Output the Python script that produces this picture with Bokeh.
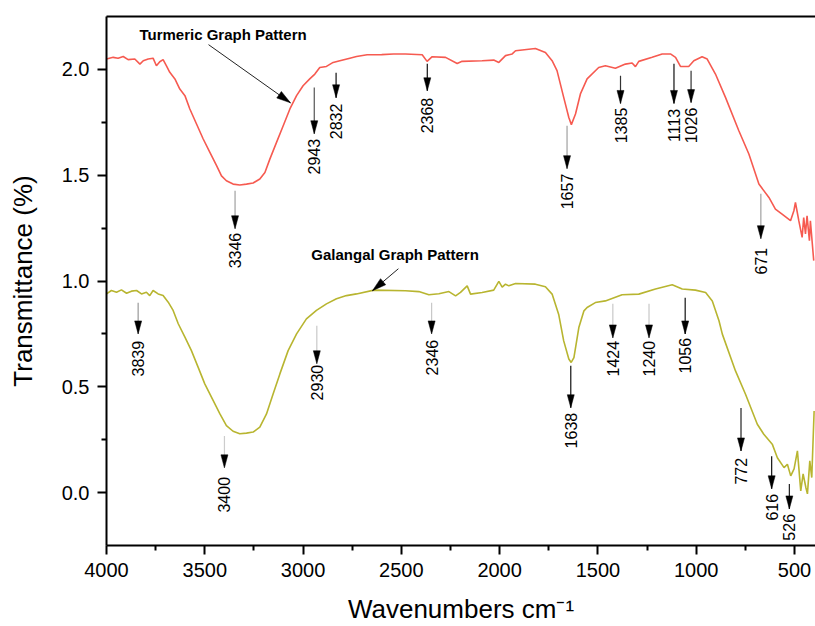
import math
from bokeh.plotting import figure
from bokeh.models import Range1d, FixedTicker, PrintfTickFormatter, LinearAxis
from bokeh.core.properties import value
from bokeh.embed import file_html
from bokeh.resources import INLINE

# ---------------- data ----------------
turmeric_x = [4000, 3966, 3941, 3915, 3890, 3856, 3830, 3813, 3788, 3763, 3746, 3729, 3712, 3695, 3678,
              3652, 3627, 3601, 3576, 3542, 3508, 3474, 3440, 3415, 3390, 3356, 3322, 3288, 3254, 3220,
              3194, 3169, 3135, 3101, 3067, 3033, 3000, 2966, 2940, 2915, 2881, 2847, 2813, 2762, 2728,
              2674, 2600, 2540, 2479, 2394, 2369, 2343, 2275, 2216, 2191, 2089, 2030, 2004, 1970, 1936,
              1919, 1818, 1767, 1733, 1708, 1674, 1648, 1635, 1614, 1589, 1555, 1496, 1462, 1411, 1360,
              1326, 1309, 1292, 1224, 1173, 1131, 1105, 1080, 1038, 1012, 970, 944, 902, 851, 783,
              732, 681, 630, 597, 563, 520, 503, 495, 478, 461, 453, 444, 436, 424, 419, 402]
turmeric_y = [2.049, 2.057, 2.053, 2.061, 2.046, 2.049, 2.025, 2.041, 2.049, 2.053, 2.017, 2.036, 2.046, 2.017, 1.986,
              1.955, 1.907, 1.876, 1.813, 1.742, 1.671, 1.608, 1.545, 1.497, 1.474, 1.458, 1.454, 1.458, 1.463, 1.482,
              1.513, 1.576, 1.655, 1.734, 1.813, 1.876, 1.923, 1.955, 1.978, 2.009, 2.014, 2.033, 2.041, 2.053, 2.061,
              2.069, 2.070, 2.073, 2.073, 2.069, 2.038, 2.06, 2.057, 2.028, 2.038, 2.041, 2.044, 2.033, 2.065, 2.073,
              2.088, 2.099, 2.08, 2.041, 1.994, 1.868, 1.773, 1.739, 1.789, 1.884, 1.955, 2.009, 2.017, 2.005, 2.025,
              2.03, 2.013, 2.038, 2.057, 2.073, 2.073, 2.057, 2.014, 2.014, 2.041, 2.06, 2.049, 1.978, 1.868, 1.71,
              1.6, 1.458, 1.395, 1.34, 1.316, 1.285, 1.332, 1.371, 1.285, 1.206, 1.3, 1.222, 1.308, 1.19, 1.285, 1.096]

galangal_x = [4000, 3975, 3949, 3924, 3898, 3873, 3847, 3822, 3797, 3780, 3763, 3737, 3712, 3686, 3661,
              3635, 3601, 3568, 3534, 3500, 3457, 3423, 3390, 3356, 3322, 3288, 3254, 3220, 3186, 3152,
              3118, 3076, 3033, 2983, 2932, 2881, 2830, 2779, 2728, 2640, 2479, 2411, 2360, 2309, 2258,
              2224, 2199, 2165, 2148, 2089, 2030, 2004, 1987, 1970, 1953, 1919, 1818, 1767, 1733, 1699,
              1674, 1648, 1636, 1622, 1597, 1571, 1555, 1513, 1462, 1377, 1292, 1207, 1122, 1071, 1004,
              952, 918, 884, 867, 800, 749, 689, 656, 613, 587, 553, 536, 519, 502, 485,
              468, 456, 442, 434, 422, 412, 400]
galangal_y = [0.939, 0.955, 0.947, 0.958, 0.942, 0.952, 0.955, 0.939, 0.947, 0.931, 0.955, 0.939, 0.931, 0.9, 0.861,
              0.798, 0.735, 0.671, 0.593, 0.514, 0.435, 0.372, 0.317, 0.29, 0.278, 0.281, 0.286, 0.309, 0.372, 0.467,
              0.561, 0.671, 0.75, 0.821, 0.861, 0.892, 0.916, 0.931, 0.939, 0.957, 0.954, 0.95, 0.935, 0.94, 0.95,
              0.93, 0.946, 0.977, 0.938, 0.946, 0.957, 0.998, 0.971, 0.985, 0.977, 0.988, 0.985, 0.973, 0.938, 0.84,
              0.717, 0.631, 0.615, 0.638, 0.78, 0.859, 0.875, 0.898, 0.906, 0.935, 0.938, 0.962, 0.982, 0.962, 0.957,
              0.946, 0.906, 0.812, 0.749, 0.575, 0.465, 0.323, 0.276, 0.229, 0.165, 0.118, 0.134, 0.079, 0.112, 0.197,
              0.008, 0.088, 0.024, -0.006, 0.15, 0.071, 0.386]

# peak annotations: wavenumber, arrow start (y), arrow tip (y), label top (y), arrow-line colour
turmeric_peaks = [3346, 2943, 2832, 2368, 1657, 1385, 1113, 1026, 671]
turmeric_arrow_top = [1.427, 1.914, 1.984, 2.027, 1.734, 1.970, 2.027, 1.994, 1.412]
turmeric_arrow_tip = [1.247, 1.696, 1.866, 1.899, 1.531, 1.839, 1.839, 1.843, 1.200]
turmeric_label_top = [1.228, 1.672, 1.838, 1.866, 1.507, 1.819, 1.814, 1.819, 1.157]
turmeric_arrow_col = ["#a0a0a0", "#555555", "#111111", "#111111", "#a0a0a0", "#333333", "#111111", "#333333", "#a0a0a0"]

galangal_peaks = [3839, 3400, 2930, 2346, 1638, 1424, 1240, 1056, 772, 616, 526]
galangal_arrow_top = [0.897, 0.268, 0.788, 0.897, 0.599, 0.892, 0.892, 0.921, 0.400, 0.172, 0.041]
galangal_arrow_tip = [0.750, 0.117, 0.609, 0.750, 0.401, 0.731, 0.731, 0.750, 0.197, 0.018, -0.077]
galangal_label_top = [0.717, 0.074, 0.604, 0.722, 0.377, 0.717, 0.717, 0.731, 0.164, -0.006, -0.101]
galangal_arrow_col = ["#999999", "#cccccc", "#c8c8c8", "#c8c8c8", "#111111", "#c8c8c8", "#c8c8c8", "#111111", "#222222", "#111111", "#222222"]

x_ticks = [4000, 3500, 3000, 2500, 2000, 1500, 1000, 500]
x_minor = [3750, 3250, 2750, 2250, 1750, 1250, 750]
y_ticks = [0.0, 0.5, 1.0, 1.5, 2.0]
y_minor = [0.25, 0.75, 1.25, 1.75]

# ---------------- layout ----------------
W, H = 815, 626
LEFT, RIGHT, TOP, BOTTOM = 106, 0, 16, 81
X0, X1 = 4000, 393
Y0, Y1 = -0.25, 2.25
SX = (W - LEFT - RIGHT) / (X0 - X1)
SY = (H - TOP - BOTTOM) / (Y1 - Y0)
FONT = "Liberation Sans"
RED = "#f65a50"
OLIVE = "#b8b530"

p = figure(width=W, height=H, x_range=Range1d(X0, X1), y_range=Range1d(Y0, Y1),
           output_backend="svg", toolbar_location=None,
           min_border_left=LEFT, min_border_right=RIGHT, min_border_top=TOP, min_border_bottom=BOTTOM)
p.grid.visible = False
p.outline_line_color = None
p.background_fill_color = "white"
p.border_fill_color = "white"

p.line(turmeric_x, turmeric_y, line_color=RED, line_width=1.6)
p.line(galangal_x, galangal_y, line_color=OLIVE, line_width=1.6)


def head(xs, ys, xt, yt, length=13, width=7):
    # arrowhead triangle computed in screen space, returned in data space
    ax, ay = -xs * SX, ys * SY
    bx, by = -xt * SX, yt * SY
    dx, dy = bx - ax, by - ay
    n = math.hypot(dx, dy)
    dx, dy = dx / n, dy / n
    cx, cy = bx - dx * length, by - dy * length
    nx, ny = -dy, dx
    pts = [(bx, by), (cx + nx * width / 2, cy + ny * width / 2), (cx - nx * width / 2, cy - ny * width / 2)]
    return [-px / SX for px, _ in pts], [py / SY for _, py in pts]


def peaks(vals, tops, tips, labels, cols):
    p.segment(x0=vals, y0=tops, x1=vals, y1=tips, line_color=cols, line_width=1.2)
    hx, hy = [], []
    for v, t0, t1 in zip(vals, tops, tips):
        a, b = head(v, t0, v, t1)
        hx.append(a)
        hy.append(b)
    p.patches(hx, hy, fill_color="black", line_color="black", line_width=0.5)
    p.text(x=vals, y=labels, text=[str(v) for v in vals], angle=math.pi / 2,
           text_align="right", text_baseline="middle", text_font=value(FONT),
           text_font_size="16px", text_color="black")


peaks(turmeric_peaks, turmeric_arrow_top, turmeric_arrow_tip, turmeric_label_top, turmeric_arrow_col)
peaks(galangal_peaks, galangal_arrow_top, galangal_arrow_tip, galangal_label_top, galangal_arrow_col)

# series name callouts
callouts = [("Turmeric Graph Pattern", 3407, 2.164, 3481, 2.117, 3064, 1.842),
            ("Galangal Graph Pattern", 2532, 1.124, 2515, 1.058, 2647, 0.954)]
for name, tx, ty, sx0, sy0, sx1, sy1 in callouts:
    p.segment(x0=[sx0], y0=[sy0], x1=[sx1], y1=[sy1], line_color="#222222", line_width=1)
    a, b = head(sx0, sy0, sx1, sy1, length=14, width=8)
    p.patches([a], [b], fill_color="black", line_color="black", line_width=0.5)
    p.text(x=[tx], y=[ty], text=[name], text_align="center", text_baseline="middle",
           text_font=value(FONT), text_font_style="bold", text_font_size="15px", text_color="black")

# axes
for ax in (p.xaxis[0], p.yaxis[0]):
    ax.axis_line_width = 2
    ax.axis_line_color = "black"
    ax.major_tick_in = 0
    ax.major_tick_out = 9
    ax.minor_tick_in = 0
    ax.minor_tick_out = 5
    ax.major_tick_line_width = 2
    ax.minor_tick_line_width = 2
    ax.major_tick_line_color = "black"
    ax.minor_tick_line_color = "black"
    ax.major_label_text_font = FONT
    ax.major_label_text_font_size = "20px"
    ax.major_label_text_color = "black"
    ax.major_label_standoff = 8
    ax.axis_label_text_font = FONT
    ax.axis_label_text_font_size = "26px"
    ax.axis_label_text_font_style = "normal"
    ax.axis_label_text_color = "black"

p.xaxis[0].ticker = FixedTicker(ticks=x_ticks, minor_ticks=x_minor)
p.yaxis[0].ticker = FixedTicker(ticks=y_ticks, minor_ticks=y_minor)
p.yaxis[0].formatter = PrintfTickFormatter(format="%.1f")
p.xaxis[0].axis_label = "Wavenumbers cm\u207b\u00b9"
p.yaxis[0].axis_label = "Transmittance (%)"
p.xaxis[0].axis_label_standoff = 14
p.yaxis[0].axis_label_standoff = 21

top_axis = LinearAxis(ticker=FixedTicker(ticks=[]), major_label_text_font_size="0px",
                      major_tick_out=0, minor_tick_out=0, major_tick_in=0, minor_tick_in=0,
                      axis_line_width=2, axis_line_color="black")
p.add_layout(top_axis, "above")

open("out.html", "w").write(file_html(p, INLINE))
